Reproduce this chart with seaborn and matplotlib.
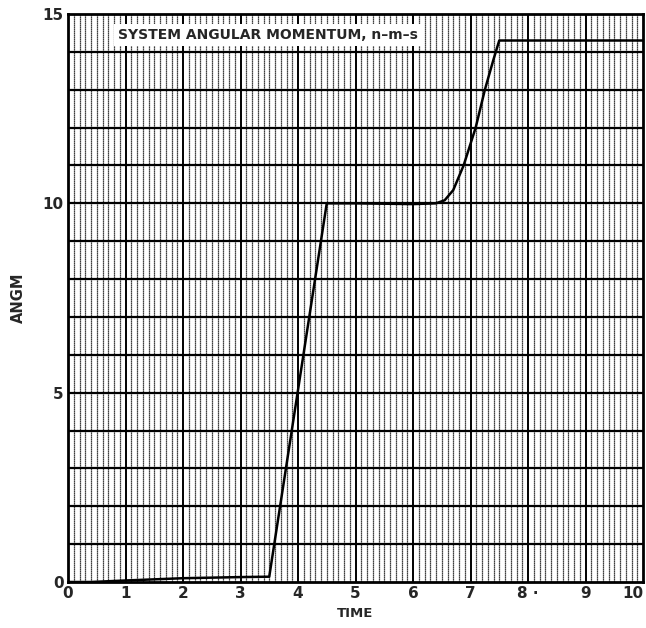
import numpy as np
import pandas as pd
import matplotlib
matplotlib.use("Agg")
import matplotlib.pyplot as plt
import seaborn as sns

# Values
time = [0.0, 0.4, 1.0, 1.5, 2.0, 3.0, 3.5, 4.5, 5.0, 6.0, 6.4, 6.55, 6.7, 6.88, 7.09, 7.25, 7.4, 7.5, 10.0]
angm = [0.0, 0.0, 0.04, 0.07, 0.1, 0.13, 0.14, 10.0, 10.0, 9.98, 10.0, 10.08, 10.35, 11.0, 12.0, 13.0, 13.8, 14.3, 14.3]

x_ticks = list(range(0, 11))
x_ticklabels = ["0", "1", "2", "3", "4", "5", "6", "7", "8 \u00b7", "9", "10"]
y_ticks = [0, 5, 10, 15]

df = pd.DataFrame({"TIME": time, "ANGM": angm})

sns.set_style("white")
plt.rcParams["font.family"] = ["DejaVu Sans"]

fig = plt.figure(figsize=(6.46, 6.28), dpi=100)
ax = fig.add_axes([68 / 646, 1 - 582 / 628, 575 / 646, 568 / 628])

# chart-paper grid
for xv in np.arange(0.1, 10, 0.1):
    if abs(xv - round(xv)) < 1e-6:
        ax.axvline(xv, color="black", lw=1.4, zorder=1)
    else:
        ax.axvline(xv, color="black", lw=0.9, ls=(0, (1.0, 0.6)), zorder=1)
for yv in range(1, 15):
    ax.axhline(yv, color="black", lw=1.6, zorder=1)

sns.lineplot(data=df, x="TIME", y="ANGM", color="black", lw=1.8, ax=ax, zorder=3)

ax.set_xlim(0, 10)
ax.set_ylim(0, 15)
ax.set_xticks(x_ticks)
ax.set_xticklabels(x_ticklabels, fontweight="bold", fontsize=11)
ax.get_xticklabels()[-1].set_horizontalalignment("right")
ax.set_yticks(y_ticks)
ax.set_yticklabels([str(v) for v in y_ticks], fontweight="bold", fontsize=11)
ax.tick_params(length=0, pad=3)
ax.set_xlabel("TIME", fontweight="bold", fontsize=9.5, labelpad=4)
ax.set_ylabel("ANGM", fontweight="bold", fontsize=10.5, labelpad=12)
for s in ax.spines.values():
    s.set_color("black")
    s.set_linewidth(2)

ax.text(0.087, 0.975, "SYSTEM ANGULAR MOMENTUM, n\u2013m\u2013s", transform=ax.transAxes,
        fontsize=10, fontweight="bold", va="top", ha="left", zorder=4,
        bbox=dict(facecolor="white", edgecolor="none", pad=3))

fig.savefig("out.png", dpi=100)
